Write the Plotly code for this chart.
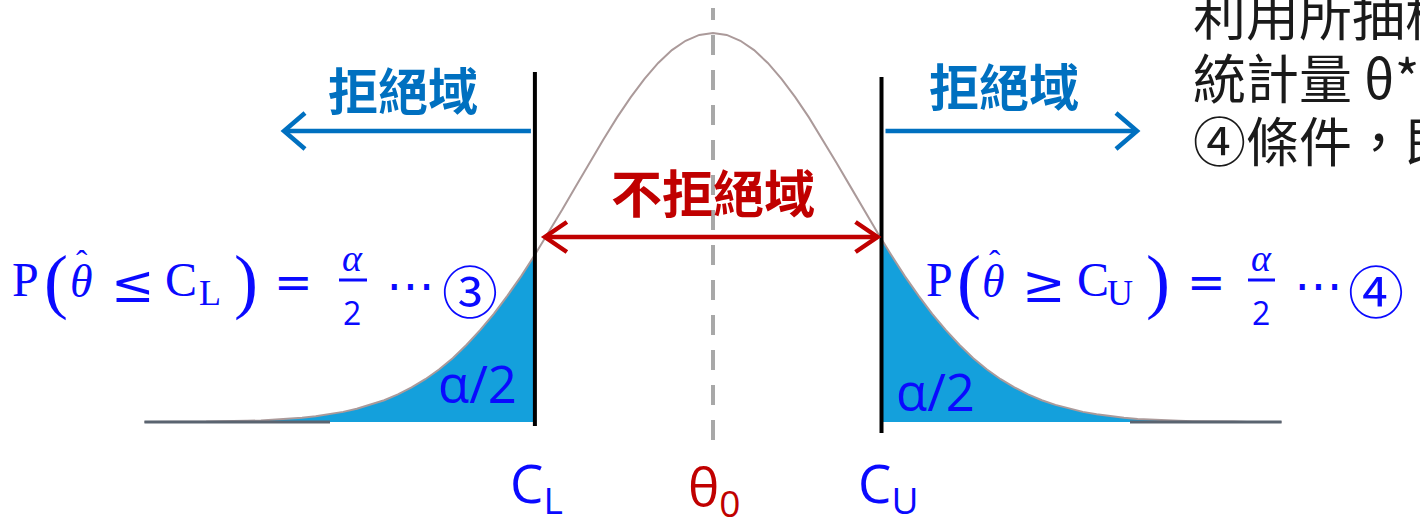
import numpy as np
import plotly.graph_objects as go

# ---------------- data ----------------
# relative height of the bell curve (peak = 1) at z = 0.0, 0.1, ..., 4.1, 4.15 (symmetric)
z_half = [0.0, 0.1, 0.2, 0.3, 0.4, 0.5, 0.6, 0.7, 0.8, 0.9,
          1.0, 1.1, 1.2, 1.3, 1.4, 1.5, 1.6, 1.7, 1.8, 1.9,
          2.0, 2.1, 2.2, 2.3, 2.4, 2.5, 2.6, 2.7, 2.8, 2.9,
          3.0, 3.1, 3.2, 3.3, 3.4, 3.5, 3.6, 3.7, 3.8, 3.9,
          4.0, 4.1, 4.15]
h_half = [1.000, 0.995, 0.980, 0.956, 0.923, 0.882, 0.835, 0.783, 0.726, 0.667,
          0.607, 0.546, 0.487, 0.430, 0.375, 0.325, 0.278, 0.236, 0.198, 0.164,
          0.135, 0.110, 0.089, 0.071, 0.056, 0.044, 0.034, 0.026, 0.020, 0.015,
          0.011, 0.008, 0.006, 0.004, 0.003, 0.002, 0.002, 0.001, 0.001, 0.000,
          0.000, 0.000, 0.000]
theta0 = 0.0
c_lower = -1.30
c_upper = 1.23
reject_label = "拒絕域"
accept_label = "不拒絕域"
side_lines = ["利用所抽樣", "統計量 θ*", "④條件，即"]

# ---------------- geometry of the canvas ----------------
W, H = 1420, 517
PX_X, PX_Y = 137.0, 389.0        # pixels per data unit
X0_PX, Y0_PX = 713.0, 422.0      # pixel position of (theta0, 0)
x_range = [(0 - X0_PX) / PX_X, (W - X0_PX) / PX_X]
y_range = [(Y0_PX - H) / PX_Y, Y0_PX / PX_Y]

def xd(px):
    return (px - X0_PX) / PX_X

def yd(py):
    return (Y0_PX - py) / PX_Y

def xp(px):
    return px / W

def yp(py):
    return 1 - py / H

z = np.array([-v for v in z_half[::-1]] + z_half[1:])
h = np.array(h_half[::-1] + h_half[1:])

h_cl = float(np.interp(c_lower, z, h))
h_cu = float(np.interp(c_upper, z, h))

fill_col = "#14a0dc"
blue_txt = "#0070c0"
formula_col = "#0a0aff"
red = "#c00000"

fig = go.Figure()

ml = z <= c_lower
fig.add_trace(go.Scatter(x=list(z[ml]) + [c_lower], y=list(h[ml]) + [h_cl],
                         fill="tozeroy", fillcolor=fill_col, mode="lines",
                         line=dict(color=fill_col, width=0), hoverinfo="skip"))
mu = z >= c_upper
fig.add_trace(go.Scatter(x=[c_upper] + list(z[mu]), y=[h_cu] + list(h[mu]),
                         fill="tozeroy", fillcolor=fill_col, mode="lines",
                         line=dict(color=fill_col, width=0), hoverinfo="skip"))
fig.add_trace(go.Scatter(x=z, y=h, mode="lines", line=dict(color="#ab9a9a", width=2),
                         hoverinfo="skip"))
fig.add_trace(go.Scatter(x=[z[0], xd(330)], y=[0, 0], mode="lines",
                         line=dict(color="#5a6470", width=3), hoverinfo="skip"))
fig.add_trace(go.Scatter(x=[xd(1130), z[-1]], y=[0, 0], mode="lines",
                         line=dict(color="#5a6470", width=3), hoverinfo="skip"))

shapes = []
shapes.append(dict(type="line", x0=theta0, x1=theta0, y0=yd(440), y1=yd(8),
                   line=dict(color="#a8a8a8", width=4, dash="20px,15px")))
shapes.append(dict(type="line", x0=c_lower, x1=c_lower, y0=yd(426), y1=yd(72),
                   line=dict(color="black", width=4)))
shapes.append(dict(type="line", x0=c_upper, x1=c_upper, y0=yd(433), y1=yd(77),
                   line=dict(color="black", width=4)))

def arrow(x_from, x_to, y, color, width, adx, ady):
    out = [dict(type="line", x0=x_from, x1=x_to, y0=y, y1=y,
                line=dict(color=color, width=width))]
    sgn = 1 if x_to > x_from else -1
    ddx = adx / PX_X
    ddy = ady / PX_Y
    path = (f"M {x_to - sgn*ddx},{y + ddy} L {x_to},{y} L {x_to - sgn*ddx},{y - ddy}")
    out.append(dict(type="path", path=path, line=dict(color=color, width=width)))
    return out

shapes += arrow(c_lower - 4 / PX_X, xd(284), yd(131), blue_txt, 4.5, 21, 18)
shapes += arrow(c_upper + 4 / PX_X, xd(1137), yd(131), blue_txt, 4.5, 21, 18)
shapes += arrow(theta0, c_lower + 10 / PX_X, yd(237), red, 4.5, 22, 15)
shapes += arrow(theta0, c_upper - 4 / PX_X, yd(237), red, 4.5, 22, 15)

ann = []
cjk = "Noto Sans CJK TC"
ann.append(dict(x=xp(403), y=yp(88), text=reject_label,
                font=dict(family=cjk, size=50, color=blue_txt, weight="bold")))
ann.append(dict(x=xp(1004), y=yp(84), text=reject_label,
                font=dict(family=cjk, size=50, color=blue_txt, weight="bold")))
ann.append(dict(x=xp(713), y=yp(191), text=accept_label,
                font=dict(family=cjk, size=51, color=red, weight="bold")))

for i, t in enumerate(side_lines):
    ann.append(dict(x=xp(1191), y=yp(13 + 63 * i), text=t, xanchor="left",
                    font=dict(family=cjk, size=53, color="#1a1a1a")))

sans = "Open Sans"
ann.append(dict(x=xp(477), y=yp(383), text="α/2", font=dict(family=sans, size=51, color=formula_col)))
ann.append(dict(x=xp(935), y=yp(391), text="α/2", font=dict(family=sans, size=51, color=formula_col)))

ann.append(dict(x=xp(536), y=yp(485), text="C<sub>L</sub>", font=dict(family=sans, size=53, color=formula_col)))
ann.append(dict(x=xp(714), y=yp(488), text="θ<sub>0</sub>", font=dict(family=sans, size=53, color=red)))
ann.append(dict(x=xp(888), y=yp(485), text="C<sub>U</sub>", font=dict(family=sans, size=53, color=formula_col)))

# formulas, glyph group by glyph group
serif = "Liberation Serif"
dserif = "DejaVu Serif"
def g(x, y, text, size, family=serif):
    return dict(x=xp(x), y=yp(y), text=text, font=dict(family=family, size=size, color=formula_col))

def formula(off, rel, sub, xs):
    # xs: centres of P, (, theta, rel, C, sub, ), =, frac, dots, circle
    a = []
    a.append(g(xs[0], 279, "P", 48))
    a.append(g(xs[1], 281, "(", 72))
    a.append(g(xs[2], 281, "<i>θ</i>", 46))
    a.append(g(xs[2] + 1, 262, "ˆ", 34))
    a.append(g(xs[3], 284, rel, 52, dserif))
    a.append(g(xs[4], 279, "C", 48))
    a.append(g(xs[5], 293, sub, 36))
    a.append(g(xs[6], 281, ")", 72))
    a.append(g(xs[7], 282, "=", 46, dserif))
    a.append(g(xs[8], 258, "<i>α</i>", 38))
    a.append(g(xs[8], 312, "2", 32, "Open Sans"))
    a.append(g(xs[9], 285, "⋯", 48, "DejaVu Sans"))
    a.append(g(xs[10], 288, off, 56, "Noto Sans CJK TC"))
    return a

ann += formula("③", "≤", "L", [25, 56, 81, 133, 181, 210, 246, 293, 352, 410, 470])
ann += formula("④", "≥", "U", [939, 969, 994, 1044, 1093, 1120, 1158, 1206, 1261, 1318, 1376])
shapes.append(dict(type="line", xref="paper", yref="paper", x0=xp(339), x1=xp(367),
                   y0=yp(280), y1=yp(280), line=dict(color=formula_col, width=3)))
shapes.append(dict(type="line", xref="paper", yref="paper", x0=xp(1248), x1=xp(1275),
                   y0=yp(280), y1=yp(280), line=dict(color=formula_col, width=3)))

for a in ann:
    a.setdefault("xref", "paper")
    a.setdefault("yref", "paper")
    a.setdefault("showarrow", False)
    a.setdefault("yanchor", "middle")
    a.setdefault("xanchor", "center")

fig.update_layout(
    width=W, height=H, margin=dict(l=0, r=0, t=0, b=0),
    paper_bgcolor="white", plot_bgcolor="white", showlegend=False,
    xaxis=dict(range=x_range, visible=False, fixedrange=True),
    yaxis=dict(range=y_range, visible=False, fixedrange=True),
    shapes=shapes, annotations=ann,
)
fig.write_html("out.html", config={"displayModeBar": False},
               post_script="document.body.style.margin='0px';document.body.style.overflow='hidden';")
